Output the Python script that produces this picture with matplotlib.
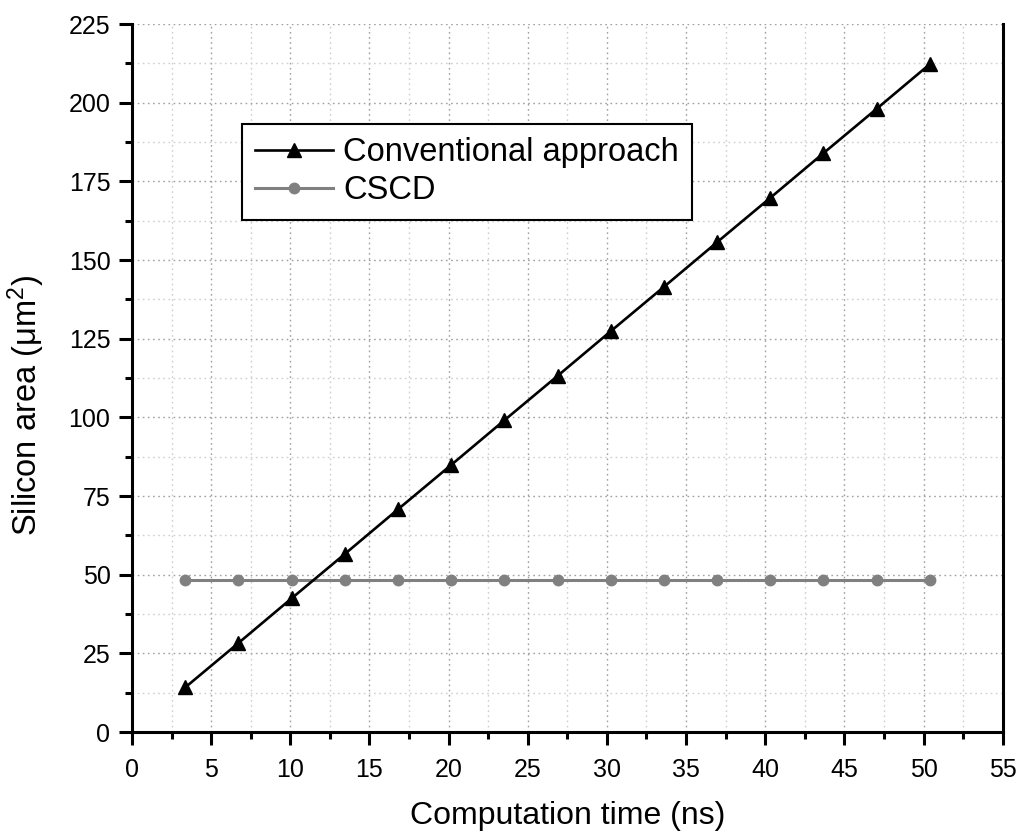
import matplotlib
matplotlib.use("Agg")
import matplotlib.pyplot as plt
from matplotlib.ticker import MultipleLocator

plt.rcParams['font.family'] = ['Liberation Sans', 'DejaVu Sans']
plt.rcParams['mathtext.fontset'] = 'custom'
plt.rcParams['mathtext.rm'] = 'Liberation Sans'
plt.rcParams['mathtext.it'] = 'Liberation Sans'

# Computation time (ns) for each design point
time_ns = [3.36, 6.72, 10.08, 13.44, 16.8, 20.16, 23.52, 26.88,
           30.24, 33.6, 36.96, 40.32, 43.68, 47.04, 50.4]
# Silicon area (um^2)
conventional_area = [14.2, 28.3, 42.5, 56.6, 70.8, 84.9, 99.1, 113.2,
                     127.4, 141.5, 155.7, 169.8, 184.0, 198.1, 212.3]
cscd_area = [48.5] * 15

series_labels = ["Conventional approach", "CSCD"]

fig = plt.figure(figsize=(10.19, 8.32), dpi=100)
ax = fig.add_axes([0.1295, 0.12, 0.8545, 0.851])

ax.plot(time_ns, conventional_area, color='black', lw=1.9, marker='^',
        markersize=9.5, label=series_labels[0], zorder=4)
ax.plot(time_ns, cscd_area, color='#808080', lw=2.2, marker='o',
        markersize=7.5, label=series_labels[1], zorder=3)

ax.set_xlim(0, 55)
ax.set_ylim(0, 225)
ax.xaxis.set_major_locator(MultipleLocator(5))
ax.xaxis.set_minor_locator(MultipleLocator(2.5))
ax.yaxis.set_major_locator(MultipleLocator(25))
ax.yaxis.set_minor_locator(MultipleLocator(12.5))

ax.grid(which='major', color='#a0a0a0', linestyle=(0, (1.2, 2.5)), lw=1.0)
ax.grid(which='minor', color='#cfcfcf', linestyle=(0, (1.2, 2.5)), lw=1.0)
ax.set_axisbelow(True)

for side in ['left', 'bottom', 'right']:
    ax.spines[side].set_linewidth(2.2)
ax.spines['top'].set_visible(False)

ax.tick_params(axis='both', which='major', direction='out', length=9.5,
               width=2.2, labelsize=18, pad=6)
ax.tick_params(axis='both', which='minor', direction='out', length=5.2,
               width=2.2)
ax.tick_params(axis='x', which='major', pad=9)
ax.tick_params(axis='y', right=False, which='both')

ax.set_xlabel("Computation time (ns)", fontsize=23, labelpad=14)
ax.set_ylabel(r"Silicon area ($\mathregular{\mu m^2}$)", fontsize=23.5)
ax.yaxis.set_label_coords(-0.098, 0.461)

leg = ax.legend(loc='upper left', bbox_to_anchor=(0.1263, 0.8586),
                borderaxespad=0, fontsize=23.5, frameon=True, fancybox=False,
                edgecolor='black', framealpha=1, handlelength=2.4,
                handletextpad=0.3, labelspacing=0.22, borderpad=0.4)
leg.get_frame().set_linewidth(1.5)

fig.savefig("out.png", dpi=100)
